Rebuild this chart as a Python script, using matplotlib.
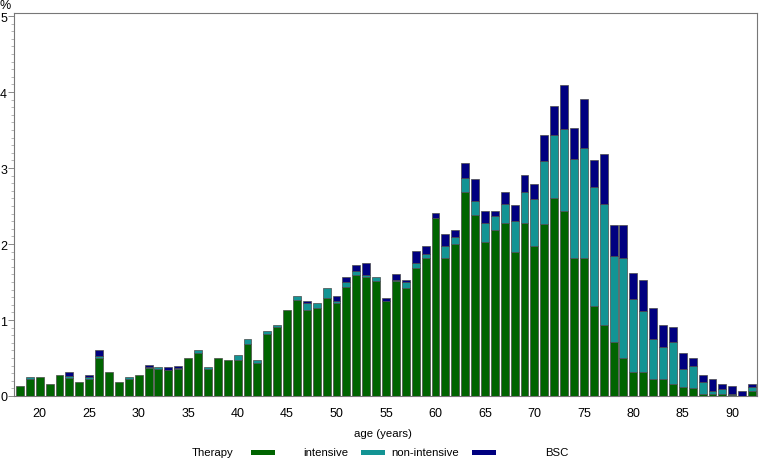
import numpy as np
import matplotlib
matplotlib.use("Agg")
import matplotlib.pyplot as plt
from matplotlib.patches import Rectangle

plt.rcParams['font.family'] = ['Liberation Sans', 'DejaVu Sans']

ages = list(range(18, 93))
intensive = [0.13, 0.22, 0.25, 0.16, 0.28, 0.24, 0.19, 0.22, 0.50, 0.32,
             0.19, 0.22, 0.28, 0.37, 0.35, 0.34, 0.35, 0.50, 0.56, 0.35,
             0.50, 0.47, 0.47, 0.69, 0.44, 0.81, 0.91, 1.13, 1.26, 1.13,
             1.16, 1.29, 1.22, 1.44, 1.59, 1.56, 1.51, 1.25, 1.51, 1.42,
             1.69, 1.81, 2.34, 1.82, 2.00, 2.69, 2.38, 2.03, 2.19, 2.28,
             1.90, 2.28, 1.97, 2.26, 2.60, 2.44, 1.81, 1.81, 1.19, 0.94,
             0.71, 0.50, 0.32, 0.32, 0.22, 0.22, 0.16, 0.12, 0.10, 0.03,
             0.02, 0.03, 0.01, 0.00, 0.06]
non_intensive = [0.00, 0.03, 0.00, 0.00, 0.00, 0.02, 0.00, 0.03, 0.03, 0.00,
                 0.00, 0.03, 0.00, 0.01, 0.03, 0.00, 0.02, 0.00, 0.04, 0.03,
                 0.00, 0.00, 0.065, 0.06, 0.03, 0.04, 0.02, 0.00, 0.05, 0.09,
                 0.06, 0.13, 0.03, 0.06, 0.06, 0.03, 0.06, 0.00, 0.02, 0.08,
                 0.06, 0.06, 0.00, 0.15, 0.09, 0.18, 0.18, 0.25, 0.18, 0.25,
                 0.40, 0.40, 0.62, 0.83, 0.83, 1.08, 1.31, 1.46, 1.56, 1.59,
                 1.13, 1.31, 0.95, 0.80, 0.53, 0.43, 0.55, 0.23, 0.30, 0.15,
                 0.04, 0.06, 0.02, 0.00, 0.06]
bsc = [0.00, 0.00, 0.00, 0.00, 0.00, 0.05, 0.00, 0.03, 0.07, 0.00,
       0.00, 0.00, 0.00, 0.03, 0.00, 0.04, 0.03, 0.00, 0.00, 0.00,
       0.00, 0.00, 0.00, 0.00, 0.00, 0.00, 0.00, 0.00, 0.00, 0.03,
       0.00, 0.00, 0.06, 0.07, 0.07, 0.16, 0.00, 0.035, 0.07, 0.03,
       0.16, 0.10, 0.07, 0.16, 0.10, 0.20, 0.29, 0.15, 0.06, 0.16,
       0.21, 0.23, 0.20, 0.35, 0.38, 0.57, 0.41, 0.64, 0.35, 0.66,
       0.41, 0.44, 0.35, 0.41, 0.41, 0.29, 0.20, 0.21, 0.10, 0.10,
       0.16, 0.07, 0.10, 0.07, 0.04]

series_names = ['intensive', 'non-intensive', 'BSC']
colors = ['#006400', '#139494', '#000080']
xticks = list(range(20, 95, 5))

FS = 8.2
fig = plt.figure(figsize=(7.61, 4.60), dpi=100)
ax = fig.add_axes([14/761, 1-397/460, (757-14)/761, (397-14)/460])

bottom = np.zeros(len(ages))
for vals, col in zip([intensive, non_intensive, bsc], colors):
    v = np.array(vals, dtype=float)
    a = np.array(ages, dtype=float)
    m = v > 0
    ax.bar(a[m], v[m], bottom=bottom[m], width=0.8, color=col,
           edgecolor='#4a4a4a', linewidth=0.5, zorder=3)
    bottom = bottom + v

ax.set_xlim(17.4, 92.5)
ax.set_ylim(0, 5.04)
ax.set_yticks([0, 1, 2, 3, 4, 5])
ax.set_yticks(np.arange(0, 5.01, 0.1), minor=True)
ax.set_xticks(xticks)
ax.tick_params(axis='x', length=0, pad=8, labelsize=FS + 0.8)
ax.tick_params(axis='y', which='major', length=4, width=0.6, pad=1, labelsize=FS + 0.8, color='#777777')
ax.tick_params(axis='y', which='minor', length=2, width=0.5, color='#999999')
for s in ax.spines.values():
    s.set_color('#777777')
    s.set_linewidth(0.8)

fig.text(5/761, 1-6/460, '%', fontsize=FS + 0.8, ha='center', va='center')
fig.text(383/761, 1-434/460, 'age (years)', fontsize=FS, ha='center', va='center')

ly = 1-453/460
fig.text(213/761, ly, 'Therapy', fontsize=FS, ha='center', va='center')
patch_x = [251, 361, 472]
label_x = [325.5, 425, 557]
for px, lx, name, col in zip(patch_x, label_x, series_names, colors):
    fig.patches.append(Rectangle((px/761, ly-2.5/460), 24/761, 5/460,
                                 transform=fig.transFigure, facecolor=col,
                                 edgecolor='none'))
    fig.text(lx/761, ly, name, fontsize=FS, ha='center', va='center')

fig.savefig('out.png', dpi=100)
